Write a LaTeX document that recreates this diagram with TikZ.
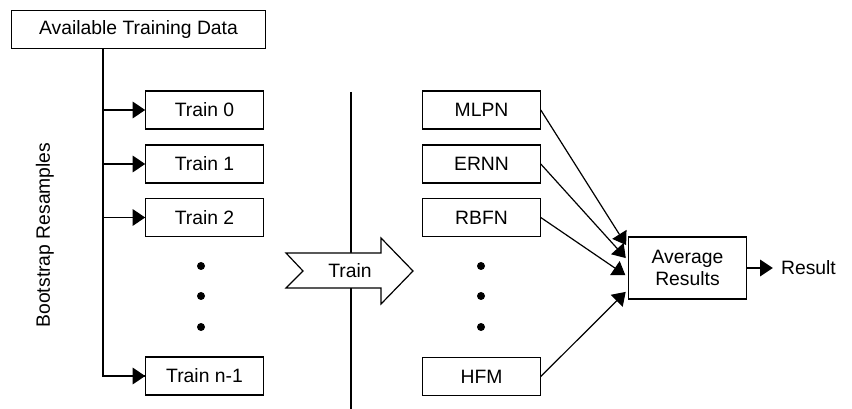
\documentclass[tikz,border=0pt]{standalone}
\usepackage{fontspec}
\setmainfont{Liberation Sans}
\usetikzlibrary{arrows.meta}
\usetikzlibrary{positioning}

\begin{document}
\begin{tikzpicture}[
    x=0.75pt, y=-0.75pt,
    every node/.style={font=\fontsize{14.5}{17}\selectfont},
    box/.style={draw, line width=0.9pt, minimum width=88pt, minimum height=28.5pt, inner sep=0pt},
    databox/.style={box, minimum width=190pt, minimum height=29pt},
    avgbox/.style={box, minimum width=89pt, minimum height=46.5pt, align=center},
    dot/.style={circle, fill, inner sep=0pt, minimum size=6pt},
    link/.style={line width=0.9pt},
    feed/.style={link, -{Triangle[length=9.5pt,width=12.5pt]}},
    train/.style={draw, line width=0.9pt, fill=white}
  ]
  \useasboundingbox (0,0) rectangle (852,409);

  % source data and bootstrap samples
  \node[databox] (data) at (138.5,29.5) {Available Training Data};
  \node[box] (t0) at (204.5,110) {Train 0};
  \node[box] (t1) at (204.5,164) {Train 1};
  \node[box] (t2) at (204.5,217.5) {Train 2};
  \node[box] (tn) at (204.5,376) {Train n-1};
  \node[dot] (ld1) at (201,266) {};
  \node[dot] (ld2) at (201,296) {};
  \node[dot] (ld3) at (201,327) {};
  \node[rotate=90] (boot) at (45,235) {Bootstrap Resamples};

  \coordinate (trunk) at (103,49);
  \draw[link] (trunk) |- (tn.west);
  \draw[feed] (tn.west -| trunk) -- (tn.west);
  \foreach \t in {t0,t1,t2}
    \draw[feed] (\t.west -| trunk) -- (\t.west);

  % separator and train arrow
  \coordinate (septop) at (351,92);
  \coordinate (sepbot) at (351,409);
  \draw[link] (septop) -- (sepbot);
  \draw[train] (286,253) -- (381,253) -- (381,238) -- (413,271) -- (381,304)
    -- (381,288) -- (286,288) -- (303,271) -- cycle;
  \node (trainlbl) at (350,271) {Train};

  % models
  \node[box] (mlpn) at (481.5,110) {MLPN};
  \node[box] (ernn) at (481.5,164) {ERNN};
  \node[box] (rbfn) at (481.5,217.5) {RBFN};
  \node[box] (hfm) at (481.5,376.5) {HFM};
  \node[dot] (rd1) at (481,266) {};
  \node[dot] (rd2) at (481,296) {};
  \node[dot] (rd3) at (481,327) {};

  % combination
  \node[avgbox] (avg) at (687.5,268) {Average\\Results};
  \draw[feed, shorten >=2pt] (mlpn.east) -- ([yshift=15.5pt]avg.west);
  \draw[feed, shorten >=2pt] (ernn.east) -- ([yshift=6pt]avg.west);
  \draw[feed, shorten >=2pt] (rbfn.east) -- ([yshift=-6.5pt]avg.west);
  \draw[feed, shorten >=2pt] (hfm.east) -- ([yshift=-16.5pt]avg.west);
  \node[right=25pt of avg, inner sep=0pt] (result) {Result};
  \draw[feed, shorten >=6pt] (avg.east) -- (result.west);
\end{tikzpicture}
\end{document}
